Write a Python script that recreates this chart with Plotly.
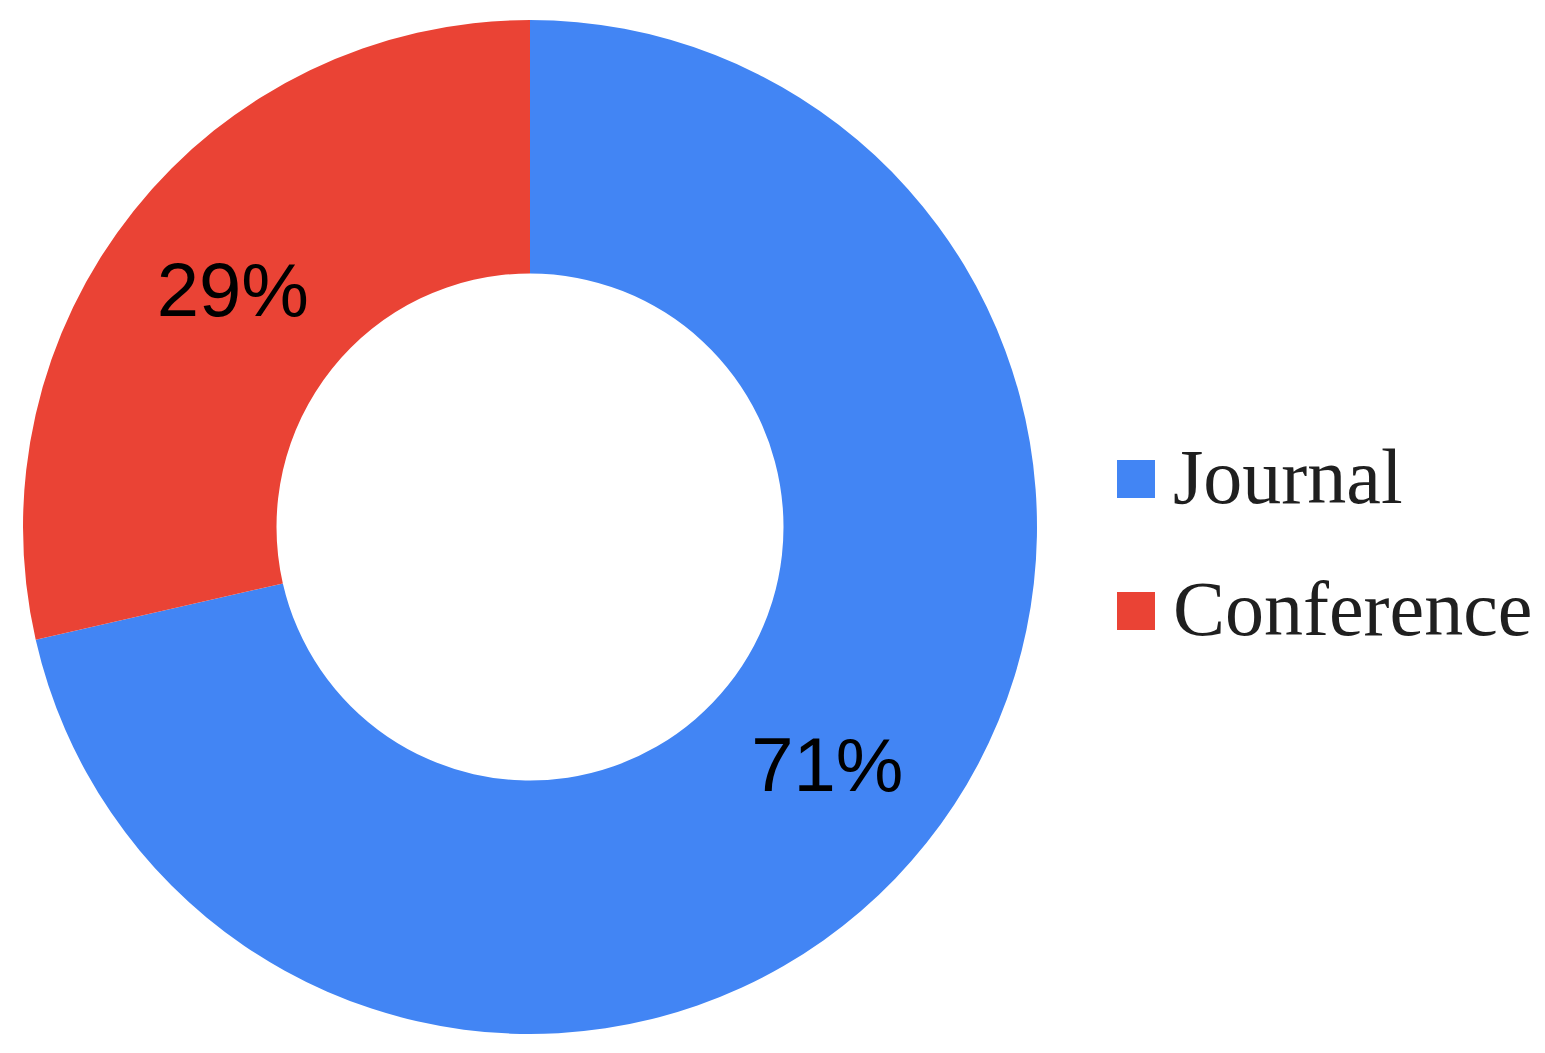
import plotly.graph_objects as go

W, H = 1545, 1053
OFF = 8  # the page body adds an 8px margin around the figure

categories = ['Journal', 'Conference']
counts = [20, 8]
colors = ['#4285F4', '#EA4335']


def px(x):
    return (x - OFF) / W


def py(y):
    return 1 - (y - OFF) / H


fig = go.Figure()
fig.add_trace(
    go.Pie(
        labels=categories,
        values=counts,
        hole=0.5,
        sort=False,
        direction='clockwise',
        rotation=0,
        marker=dict(colors=colors, line=dict(width=0)),
        texttemplate='%{percent:.0%}',
        textposition='inside',
        insidetextorientation='horizontal',
        insidetextfont=dict(family='Liberation Sans, Arial', size=76, color='black'),
        showlegend=False,
        domain=dict(x=[px(23), px(1037)], y=[py(1034), py(20)]),
    ),
)

# legend drawn by hand so the swatches can be as large as in the reference
shapes = []
annotations = []
for i, (name, col) in enumerate(zip(categories, colors)):
    cy = 479 + i * 132
    shapes.append(dict(
        type='rect', xref='paper', yref='paper',
        x0=px(1117), x1=px(1155),
        y0=py(cy + 19), y1=py(cy - 19),
        fillcolor=col, line=dict(width=0),
    ))
    annotations.append(dict(
        text=name, xref='paper', yref='paper',
        x=px(1171), y=py(cy - 3),
        xanchor='left', yanchor='middle', showarrow=False,
        font=dict(family='Liberation Serif, Times New Roman', size=78, color='#1f1f1f'),
    ))

fig.update_layout(
    width=W,
    height=H,
    margin=dict(l=0, r=0, t=0, b=0),
    paper_bgcolor='white',
    plot_bgcolor='white',
    shapes=shapes,
    annotations=annotations,
)

fig.write_html('out.html')
